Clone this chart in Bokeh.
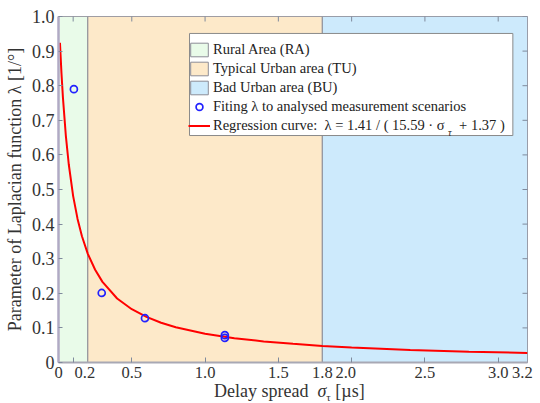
import math
from bokeh.plotting import figure
from bokeh.layouts import column
from bokeh.models import (Range1d, FixedTicker, Legend, LegendItem, Div)
from bokeh.core.properties import value
from bokeh.embed import file_html
from bokeh.resources import INLINE

# ---- data ----
region_names = ["Rural Area (RA)", "Typical Urban area (TU)", "Bad Urban area (BU)"]
region_left = [0.0, 0.2, 1.8]
region_right = [0.2, 1.8, 3.2]
region_bottom = [0.0, 0.0, 0.0]
region_top = [1.0, 1.0, 1.0]

fit_delay = [0.105, 0.295, 0.59, 1.135, 1.135]
fit_lambda = [0.79, 0.201, 0.128, 0.079, 0.071]

curve_delay = [0.01, 0.02, 0.03, 0.05, 0.07, 0.1, 0.13, 0.16, 0.2, 0.25, 0.3,
               0.4, 0.5, 0.6, 0.7, 0.8, 1.0, 1.2, 1.4, 1.6, 1.8, 2.0, 2.4,
               2.8, 3.2]
curve_lambda = [0.924, 0.838, 0.767, 0.656, 0.573, 0.481, 0.415, 0.365, 0.314,
                0.268, 0.233, 0.185, 0.154, 0.132, 0.115, 0.102, 0.083, 0.070,
                0.061, 0.054, 0.048, 0.043, 0.036, 0.031, 0.0275]

# tick labels as placed in the picture, and the tick marks
x_label_at = [0, 0.18, 0.5, 1.0, 1.5, 1.8, 1.96, 2.5, 3.0, 3.165]
x_tick_labels = ["0", "0.2", "0.5", "1.0", "1.5", "1.8", "2.0", "2.5", "3.0", "3.2"]
x_tick_marks = [0.1, 0.5, 1.0, 1.5, 2.0, 2.5, 3.0]
y_tick_values = [0, 0.1, 0.2, 0.3, 0.4, 0.5, 0.6, 0.7, 0.8, 0.9, 1.0]
y_tick_labels = ["0", "0.1", "0.2", "0.3", "0.4", "0.5", "0.6", "0.7", "0.8", "0.9", "1.0"]

fit_label = "Fiting λ to analysed measurement scenarios"
curve_label = "Regression curve:  λ = 1.41 / ( 15.59 · σ    + 1.37 )"
curve_label_sub = "τ"
y_title = "Parameter of Laplacian function λ [1/°]"

# ---- styles / layout constants ----
FONT = "Liberation Serif"
region_colors = ["#e9fbe9", "#fde9c9", "#cdeafc"]
edge = "#8c8c96"
tick_col = "#7f8a9c"
text_col = "#333333"
LEG_BOX = dict(left=0.894, right=3.1, bottom=0.656, top=0.951)  # legend frame (data units)
SUB_POS = (2.658, 0.664)                                         # subscript in legend

p = figure(width=540, height=380, x_range=Range1d(0, 3.2), y_range=Range1d(0, 1.0),
           output_backend="svg", toolbar_location=None,
           min_border_left=58, min_border_right=13, min_border_top=16,
           min_border_bottom=18)
p.xgrid.visible = False
p.ygrid.visible = False
p.outline_line_color = "#9a9aa8"
p.outline_line_width = 1
p.background_fill_color = "white"
p.border_fill_color = "white"

region_renderers = []
for i in range(3):
    r = p.quad(left=[region_left[i]], right=[region_right[i]],
               bottom=[region_bottom[i]], top=[region_top[i]],
               fill_color=region_colors[i], line_color=edge, line_width=1)
    region_renderers.append(r)

curve_r = p.line(curve_delay, curve_lambda, line_color="#ff0000", line_width=2)
fit_r = p.scatter(fit_delay, fit_lambda, marker="circle", size=7,
                  fill_color=None, line_color="#2222ff", line_width=1.7)

# tick marks on the top and right edges (half of each dash is clipped)
p.scatter(x_tick_marks, [1.0] * len(x_tick_marks), marker="dash", angle=math.pi / 2,
          size=10, line_color=tick_col, line_width=1)
p.scatter([3.2] * len(y_tick_values), y_tick_values, marker="dash", angle=0,
          size=10, line_color=tick_col, line_width=1)

# legend frame (white box) drawn under a transparent Bokeh legend
p.quad(left=[LEG_BOX["left"]], right=[LEG_BOX["right"]], bottom=[LEG_BOX["bottom"]],
       top=[LEG_BOX["top"]], fill_color="white", line_color="#8a8a8a", line_width=1)
p.text(x=[SUB_POS[0]], y=[SUB_POS[1]], text=[curve_label_sub], text_font=value(FONT),
       text_font_size="10px", text_font_style="italic", text_color="#222222",
       text_baseline="alphabetic", text_align="left")

bx = p.below[0]
bx.ticker = FixedTicker(ticks=x_label_at, minor_ticks=x_tick_marks)
bx.major_label_overrides = dict(zip(x_label_at, x_tick_labels))
bx.major_tick_line_color = None
bx.minor_tick_in = 5
bx.minor_tick_out = 0
bx.minor_tick_line_color = tick_col
bx.axis_line_color = "#a8a8b4"
bx.axis_line_width = 2
bx.major_label_text_font = FONT
bx.major_label_text_font_size = "16.5px"
bx.major_label_text_color = text_col
bx.major_label_standoff = -2

ly = p.left[0]
ly.ticker = FixedTicker(ticks=y_tick_values, minor_ticks=[])
ly.major_label_overrides = dict(zip(y_tick_values, y_tick_labels))
ly.major_tick_in = 4
ly.major_tick_out = 0
ly.major_tick_line_color = tick_col
ly.axis_line_color = "#b0aac4"
ly.axis_line_width = 2.5
ly.major_label_text_font = FONT
ly.major_label_text_font_size = "18px"
ly.major_label_text_color = text_col
ly.major_label_standoff = 4
ly.axis_label = y_title
ly.axis_label_text_font = FONT
ly.axis_label_text_font_style = "normal"
ly.axis_label_text_font_size = "18px"
ly.axis_label_text_color = text_col
ly.axis_label_standoff = 4

items = [LegendItem(label=region_names[i], renderers=[region_renderers[i]]) for i in range(3)]
items.append(LegendItem(label=fit_label, renderers=[fit_r]))
items.append(LegendItem(label=curve_label, renderers=[curve_r]))
legend = Legend(items=items, location=(130, 228))
legend.label_text_font = FONT
legend.label_text_font_size = "14.5px"
legend.label_text_color = "#222222"
legend.glyph_width = 22
legend.glyph_height = 17
legend.label_height = 17
legend.spacing = 2
legend.padding = 4
legend.margin = 0
legend.label_standoff = 3
legend.border_line_color = None
legend.background_fill_alpha = 0
p.add_layout(legend)

xlab = Div(width=540, height=23, text=(
    '<div style="padding-left:209px; font-family:\'Liberation Serif\'; font-size:18px; '
    'line-height:18px; color:#333333; position:relative; top:-3px; white-space:nowrap">'
    'Delay spread&nbsp;&nbsp;<i>σ</i><span style="font-size:11px; vertical-align:-4px">τ</span>'
    ' [µs]</div>'))

layout = column(p, xlab, spacing=0)
open("out.html", "w").write(file_html(layout, INLINE))
